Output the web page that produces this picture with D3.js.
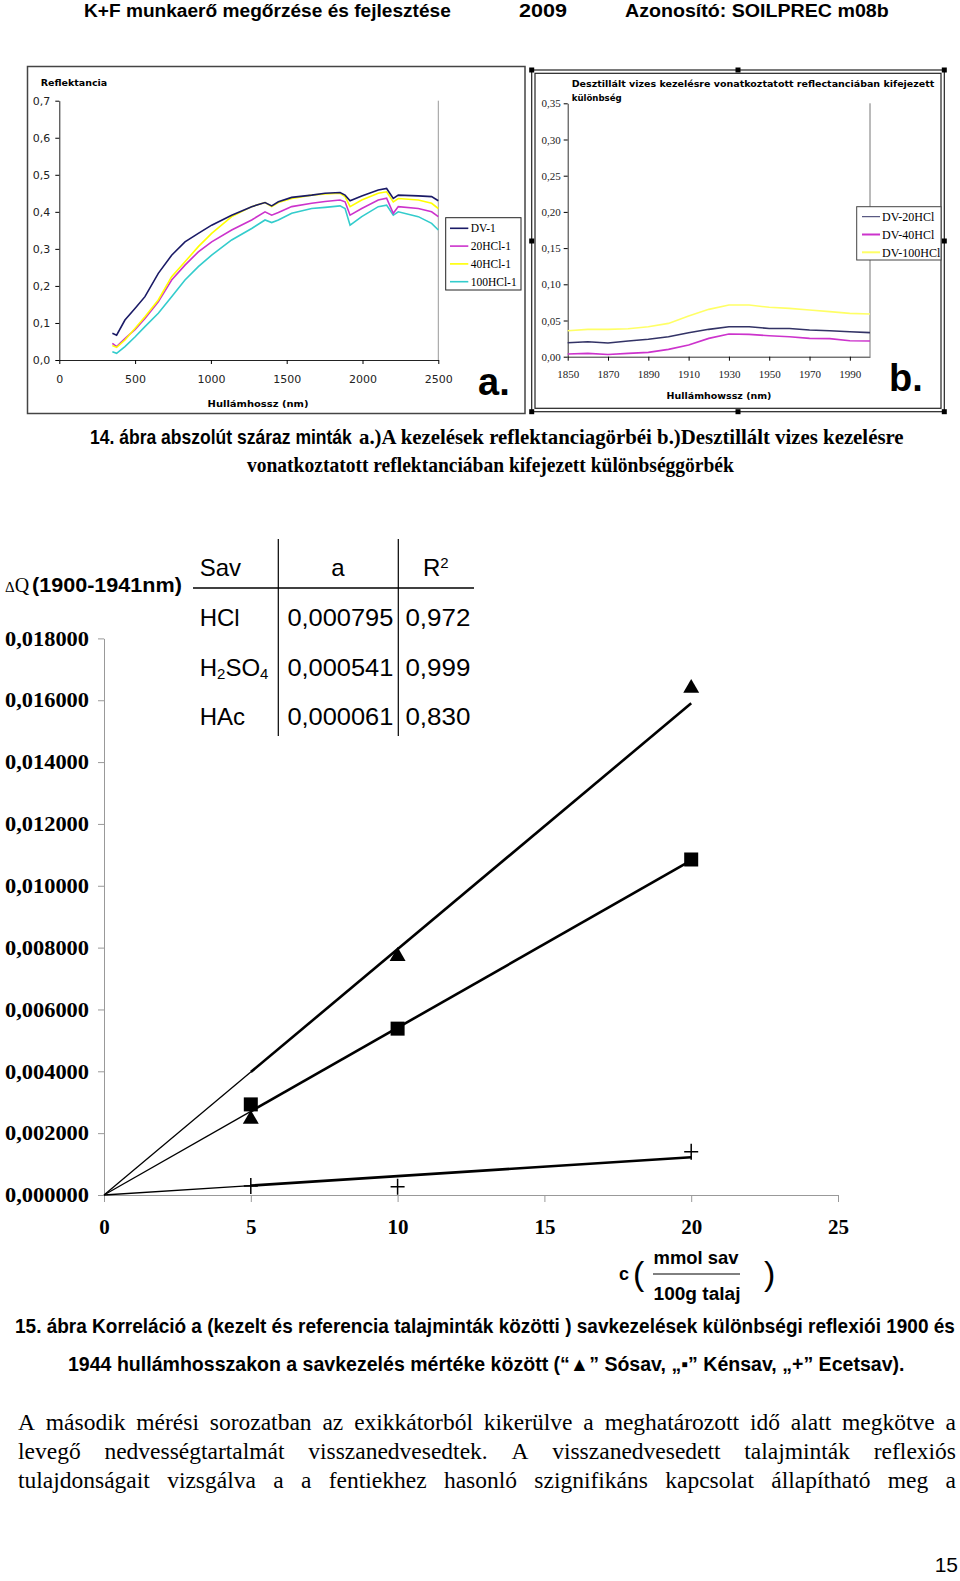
<!DOCTYPE html>
<html><head><meta charset="utf-8">
<script src="https://cdn.jsdelivr.net/npm/d3@7"></script>
<style>body{margin:0;background:#fff}svg{display:block}</style>
</head><body><svg id="page" width="960" height="1581"></svg>
<script>
// ---------- DATA ----------
// chart a: reflectance spectra
const waveA = [350,378,433,499,565,653,741,829,917,1005,1137,1269,1357,1401,1445,1533,1665,1753,1852,1885,1918,1995,2104,2159,2203,2236,2368,2456,2500];
const dv1    = [0.072,0.067,0.108,0.139,0.171,0.234,0.283,0.319,0.342,0.364,0.391,0.414,0.425,0.416,0.427,0.439,0.445,0.450,0.452,0.445,0.430,0.443,0.459,0.463,0.436,0.445,0.443,0.441,0.430];
const hcl20  = [0.045,0.036,0.058,0.082,0.112,0.157,0.216,0.256,0.292,0.319,0.351,0.378,0.400,0.391,0.398,0.414,0.423,0.428,0.432,0.427,0.391,0.409,0.432,0.437,0.396,0.414,0.409,0.400,0.387];
const hcl40  = [0.039,0.034,0.054,0.085,0.117,0.162,0.225,0.265,0.306,0.342,0.387,0.414,0.425,0.414,0.425,0.436,0.445,0.448,0.450,0.441,0.414,0.432,0.450,0.454,0.427,0.436,0.432,0.423,0.409];
const hcl100 = [0.022,0.018,0.036,0.062,0.090,0.126,0.171,0.216,0.252,0.283,0.324,0.355,0.378,0.371,0.378,0.396,0.409,0.412,0.416,0.409,0.364,0.387,0.414,0.418,0.391,0.400,0.387,0.369,0.351];
const seriesANames = ["DV-1","20HCl-1","40HCl-1","100HCl-1"];
const yTicksA = [0,0.1,0.2,0.3,0.4,0.5,0.6,0.7];
const xTicksA = [0,500,1000,1500,2000,2500];

// chart b: difference spectra
const waveB = [1850,1860,1870,1880,1890,1900,1910,1920,1930,1940,1950,1960,1970,1980,1990,2000];
const dv20  = [0.0193,0.0207,0.0190,0.0216,0.0240,0.0276,0.0332,0.0378,0.0414,0.0414,0.0390,0.0390,0.0368,0.0359,0.0345,0.0332];
const dv40  = [0.0037,0.0046,0.0030,0.0046,0.0060,0.0101,0.0161,0.0253,0.0313,0.0309,0.0290,0.0276,0.0253,0.0249,0.0221,0.0216];
const dv100 = [0.0359,0.0378,0.0378,0.0387,0.0414,0.0460,0.0562,0.0654,0.0714,0.0714,0.0682,0.0668,0.0645,0.0622,0.0599,0.0590];
const seriesBNames = ["DV-20HCl","DV-40HCl","DV-100HCl"];
const yTicksB = [0,0.05,0.10,0.15,0.20,0.25,0.30,0.35];
const xTicksB = [1850,1870,1890,1910,1930,1950,1970,1990];

// main chart (15. ábra)
const conc   = [5,10,20];
const hclPts = [0.00245,0.00772,0.01639];
const h2so4Pts = [0.00293,0.00538,0.01085];
const hacPts = [0.00029,0.00027,0.00140];
const slopes = [0.000795,0.000541,0.000061];
const slopeText = ["0,000795","0,000541","0,000061"];
const r2Text = ["0,972","0,999","0,830"];
const acidNames = [[["HCl",0]],[["H",0],["2",1],["SO",0],["4",1]],[["HAc",0]]];
const yTicksMain = [0,0.002,0.004,0.006,0.008,0.010,0.012,0.014,0.016,0.018];
const xTicksMain = [0,5,10,15,20,25];

// ---------- HELPERS ----------
const svg = d3.select("#page");
svg.append("rect").attr("width",960).attr("height",1581).attr("fill","#fff");
const loc = d3.formatLocale({decimal:",",thousands:" ",grouping:[3],currency:["",""]});
const SANS = "'Liberation Sans', Arial, sans-serif";
const SERIF = "'Liberation Serif', 'Times New Roman', serif";
const TAH = "'DejaVu Sans', Verdana, sans-serif";

// text; if w given, horizontally scaled so its width is exactly w
function fitText(sel, x, y, str, w, font, size, weight, anchor){
  const t = sel.append("text").text(str)
    .attr("font-family",font).attr("font-size",size).attr("font-weight",weight||"normal")
    .attr("text-anchor",anchor||"start").attr("fill","#000");
  if (w) {
    const nat = t.node().getComputedTextLength();
    t.attr("transform",`translate(${x},${y}) scale(${w/nat},1)`);
  } else {
    t.attr("x",x).attr("y",y);
  }
  return t;
}

// ---------- HEADER ----------
fitText(svg,84,17,"K+F munkaerő megőrzése és fejlesztése",367,SANS,19,"bold");
fitText(svg,519,17,"2009",48,SANS,19,"bold");
fitText(svg,625,17,"Azonosító: SOILPREC m08b",264,SANS,19,"bold");

// ---------- CHART A ----------
const ga = svg.append("g");
ga.append("rect").attr("x",27.5).attr("y",66.5).attr("width",497.5).attr("height",347)
  .attr("fill","#fff").attr("stroke","#444").attr("stroke-width",1.5);
const xa = d3.scaleLinear().domain([0,2500]).range([59.3,438.3]);
const ya = d3.scaleLinear().domain([0,0.7]).range([360,100.7]);
ga.append("line").attr("x1",438.3).attr("x2",438.3).attr("y1",100.7).attr("y2",360).attr("stroke","#999");
const fmtA = loc.format(".1f");
const axA = ga.append("g").attr("transform","translate(59.3,0)")
  .call(d3.axisLeft(ya).tickValues(yTicksA).tickFormat(fmtA).tickSize(4).tickSizeOuter(0).tickPadding(5));
axA.selectAll("text").attr("font-family",TAH).attr("font-size",11).attr("fill","#222");
axA.select(".domain").attr("stroke","#222");
const axAx = ga.append("g").attr("transform","translate(0,360)")
  .call(d3.axisBottom(xa).tickValues(xTicksA).tickFormat(d3.format("d")).tickSize(4).tickSizeOuter(0).tickPadding(11));
axAx.selectAll("text").attr("font-family",TAH).attr("font-size",11).attr("fill","#222");
axAx.select(".domain").attr("stroke","#222");
fitText(ga,40.7,86,"Reflektancia",null,TAH,9.5,"bold");
fitText(ga,258,407,"Hullámhossz (nm)",101,TAH,9.5,"bold","middle");
const colA = ["#1a1a66","#cc33cc","#ffff00","#33cccc"];
const dataA = [dv1,hcl20,hcl40,hcl100];
const lineA = d3.line().x((d,i)=>xa(waveA[i])).y(d=>ya(d));
[3,1,2,0].forEach(k=>{
  ga.append("path").attr("d",lineA(dataA[k])).attr("fill","none").attr("stroke",colA[k]).attr("stroke-width",1.6);
});
const legA = ga.append("g");
legA.append("rect").attr("x",445.7).attr("y",217.7).attr("width",75.3).attr("height",72.3)
  .attr("fill","#fff").attr("stroke","#222").attr("stroke-width",1);
const legAy = d3.scalePoint().domain(seriesANames).range([228.3,281.7]);
seriesANames.forEach((n,i)=>{
  legA.append("line").attr("x1",450).attr("x2",468.3).attr("y1",legAy(n)).attr("y2",legAy(n))
    .attr("stroke",colA[i]).attr("stroke-width",1.6);
  fitText(legA,470.7,legAy(n)+4,n,null,SERIF,11.5,"normal");
});
fitText(ga,478,395,"a.",null,SANS,38,"bold");

// ---------- CHART B ----------
const gb = svg.append("g");
gb.append("rect").attr("x",531.7).attr("y",70).attr("width",412.6).attr("height",341.7)
  .attr("fill","#fff").attr("stroke","#222").attr("stroke-width",1.2);
gb.append("rect").attr("x",535).attr("y",73.3).attr("width",406).attr("height",335)
  .attr("fill","none").attr("stroke","#222").attr("stroke-width",1.2);
[[531.7,70],[738,70],[944.3,70],[531.7,241],[944.3,241],[531.7,411.7],[738,411.7],[944.3,411.7]].forEach(p=>{
  gb.append("rect").attr("x",p[0]-2.5).attr("y",p[1]-2.5).attr("width",5).attr("height",5).attr("fill","#000");
});
const xb = d3.scaleLinear().domain([1850,2000]).range([567.7,870]);
const yb = d3.scaleLinear().domain([0,0.35]).range([356.7,103.3]);
gb.append("line").attr("x1",870).attr("x2",870).attr("y1",103.3).attr("y2",356.7).attr("stroke","#777");
const fmtB = loc.format(".2f");
const axB = gb.append("g").attr("transform","translate(567.7,0)")
  .call(d3.axisLeft(yb).tickValues(yTicksB).tickFormat(fmtB).tickSize(4).tickSizeOuter(0).tickPadding(3));
axB.selectAll("text").attr("font-family",SERIF).attr("font-size",11).attr("fill","#222");
axB.select(".domain").attr("stroke","#333");
const axBx = gb.append("g").attr("transform","translate(0,356.7)")
  .call(d3.axisBottom(xb).tickValues(xTicksB).tickFormat(d3.format("d")).tickSize(4).tickSizeOuter(0).tickPadding(10));
axBx.selectAll("text").attr("font-family",SERIF).attr("font-size",11).attr("fill","#222");
axBx.select(".domain").attr("stroke","#333");
fitText(gb,571.7,87,"Desztillált vizes kezelésre vonatkoztatott reflectanciában kifejezett",363,TAH,9.5,"bold");
fitText(gb,571.7,100.5,"különbség",50,TAH,9.5,"bold");
fitText(gb,719,399,"Hullámhowssz (nm)",105,TAH,9.5,"bold","middle");
const colB = ["#333366","#cc33cc","#ffff66"];
const dataB = [dv20,dv40,dv100];
const lineB = d3.line().x((d,i)=>xb(waveB[i])).y(d=>yb(d));
dataB.forEach((s,k)=>{
  gb.append("path").attr("d",lineB(s)).attr("fill","none").attr("stroke",colB[k]).attr("stroke-width",1.6);
});
const legB = gb.append("g");
legB.append("rect").attr("x",856.7).attr("y",206.7).attr("width",84.3).attr("height",53.3)
  .attr("fill","#fff").attr("stroke","#444").attr("stroke-width",1);
const legBy = d3.scalePoint().domain(seriesBNames).range([216.7,252.3]);
seriesBNames.forEach((n,i)=>{
  legB.append("line").attr("x1",862).attr("x2",880).attr("y1",legBy(n)).attr("y2",legBy(n))
    .attr("stroke",colB[i]).attr("stroke-width",i===0?1:2);
  fitText(legB,882,legBy(n)+4.5,n,null,SERIF,12,"normal");
});
fitText(gb,889,391,"b.",null,SANS,38,"bold");

// ---------- CAPTION 14 ----------
fitText(svg,90,444,"14. ábra abszolút száraz minták",262,SANS,21,"bold");
fitText(svg,359,444,"a.)A kezelések reflektanciagörbéi b.)Desztillált vizes kezelésre",545,SERIF,21,"bold");
fitText(svg,247,472,"vonatkoztatott reflektanciában kifejezett különbséggörbék",487,SERIF,21,"bold");

// ---------- MAIN CHART ----------
const gm = svg.append("g");
const xm = d3.scaleLinear().domain([0,25]).range([104,838]);
const ym = d3.scaleLinear().domain([0,0.018]).range([1195,638.4]);
const fmtM = loc.format(".6f");
const axM = gm.append("g").attr("transform","translate(104,0)")
  .call(d3.axisLeft(ym).tickValues(yTicksMain).tickFormat(fmtM).tickSize(6).tickSizeOuter(0).tickPadding(9));
axM.selectAll("text").attr("font-family",SERIF).attr("font-size",21).attr("font-weight","bold").attr("fill","#000")
  .attr("textLength",84).attr("lengthAdjust","spacingAndGlyphs");
axM.selectAll("line").attr("stroke","#999");
axM.select(".domain").attr("stroke","#999");
const axMx = gm.append("g").attr("transform","translate(0,1195)")
  .call(d3.axisBottom(xm).tickValues(xTicksMain).tickSize(7).tickSizeOuter(0).tickPadding(17));
axMx.selectAll("text").attr("font-family",SERIF).attr("font-size",21).attr("font-weight","bold").attr("fill","#000");
axMx.selectAll("line").attr("stroke","#999");
axMx.select(".domain").attr("stroke","#999");

// Y title
const yt = gm.append("text").attr("x",5).attr("y",592).attr("fill","#000");
yt.append("tspan").attr("font-family",SERIF).attr("font-size",15).text("Δ");
yt.append("tspan").attr("font-family",SERIF).attr("font-size",20).text("Q");
fitText(gm,32,592,"(1900-1941nm)",150,SANS,20,"bold");

// trend lines (thin 0..5, thick 5..20)
slopes.forEach(a=>{
  gm.append("line").attr("x1",xm(0)).attr("y1",ym(0)).attr("x2",xm(5)).attr("y2",ym(a*5))
    .attr("stroke","#000").attr("stroke-width",1.3);
  gm.append("line").attr("x1",xm(5)).attr("y1",ym(a*5)).attr("x2",xm(20)).attr("y2",ym(a*20))
    .attr("stroke","#000").attr("stroke-width",2.6);
});
// markers
gm.selectAll(".tri").data(conc).join("path").attr("class","tri")
  .attr("d",d3.symbol(d3.symbolTriangle,110)())
  .attr("transform",(d,i)=>`translate(${xm(d)},${ym(hclPts[i])})`).attr("fill","#000");
gm.selectAll(".sq").data(conc).join("rect").attr("class","sq")
  .attr("x",d=>xm(d)-7).attr("y",(d,i)=>ym(h2so4Pts[i])-7).attr("width",14).attr("height",14).attr("fill","#000");
gm.selectAll(".pl").data(conc).join("path").attr("class","pl")
  .attr("d",(d,i)=>{const cx=xm(d),cy=ym(hacPts[i]);return `M${cx-7},${cy}H${cx+7}M${cx},${cy-8}V${cy+8}`;})
  .attr("stroke","#000").attr("stroke-width",1.5).attr("fill","none");

// table
const tb = gm.append("g");
const colX = [199.7,287.4,405.4];
const rowY = [626,675.6,725];
fitText(tb,199.7,576,"Sav",null,SANS,24,"normal");
fitText(tb,338,576,"a",null,SANS,24,"normal","middle");
const r2h = tb.append("text").attr("x",423).attr("y",576).attr("font-family",SANS).attr("font-size",24);
r2h.append("tspan").text("R");
r2h.append("tspan").attr("font-size",15).attr("dy",-8).text("2");
tb.append("line").attr("x1",193).attr("x2",474).attr("y1",588).attr("y2",588).attr("stroke","#000").attr("stroke-width",1.5);
tb.append("line").attr("x1",278.3).attr("x2",278.3).attr("y1",539).attr("y2",736).attr("stroke","#000").attr("stroke-width",1.2);
tb.append("line").attr("x1",398.3).attr("x2",398.3).attr("y1",539).attr("y2",736).attr("stroke","#000").attr("stroke-width",1.2);
acidNames.forEach((parts,i)=>{
  const t = tb.append("text").attr("x",colX[0]).attr("y",rowY[i]).attr("font-family",SANS).attr("font-size",24);
  let shift = 0;
  parts.forEach(p=>{
    const target = p[1] ? 3 : 0;
    t.append("tspan").attr("font-size",p[1]?15:24).attr("dy",target-shift).text(p[0]);
    shift = target;
  });
  fitText(tb,colX[1],rowY[i],slopeText[i],106,SANS,24,"normal");
  fitText(tb,colX[2],rowY[i],r2Text[i],65,SANS,24,"normal");
});

// x title
fitText(gm,619,1280,"c",null,SANS,18,"bold");
fitText(gm,633,1285,"(",null,SANS,34,"normal");
fitText(gm,696,1264,"mmol sav",85,SANS,18,"bold","middle");
gm.append("line").attr("x1",653).attr("x2",740).attr("y1",1274).attr("y2",1274).attr("stroke","#000").attr("stroke-width",1);
fitText(gm,697,1300,"100g talaj",87,SANS,18,"bold","middle");
fitText(gm,764,1285,")",null,SANS,34,"normal");

// ---------- CAPTION 15 ----------
fitText(svg,15,1333,"15. ábra Korreláció a (kezelt és referencia talajminták közötti ) savkezelések különbségi reflexiói 1900 és",940,SANS,19.5,"bold");
fitText(svg,68,1371,"1944 hullámhosszakon a savkezelés mértéke között (“▲” Sósav, „▪” Kénsav, „+” Ecetsav).",837,SANS,19.5,"bold");

// ---------- PARAGRAPH (justified) ----------
const paraLines = [
  "A második mérési sorozatban az exikkátorból kikerülve a meghatározott idő alatt megkötve a",
  "levegő nedvességtartalmát visszanedvesedtek. A visszanedvesedett talajminták reflexiós",
  "tulajdonságait vizsgálva a a fentiekhez hasonló szignifikáns kapcsolat állapítható meg a"
];
const paraY = [1430,1459,1488];
paraLines.forEach((ln,li)=>{
  const words = ln.split(" ");
  const g = svg.append("g");
  const nodes = words.map(w=>g.append("text").attr("y",paraY[li]).attr("font-family",SERIF).attr("font-size",23.5).attr("fill","#000").text(w));
  let widths = nodes.map(n=>n.node().getComputedTextLength());
  let total = d3.sum(widths);
  const minGap = 5;
  let k = 1;
  if (total + minGap*(words.length-1) > 938) {
    k = (938 - minGap*(words.length-1))/total;
    widths = widths.map(w=>w*k); total = d3.sum(widths);
  }
  const gap = (956-18-total)/(words.length-1);
  let x = 18;
  nodes.forEach((n,i)=>{
    n.attr("y",null).attr("transform",`translate(${x},${paraY[li]}) scale(${k},1)`);
    x += widths[i]+gap;
  });
});

// page number
fitText(svg,958,1572,"15",null,SANS,21,"normal","end");
</script></body></html>
